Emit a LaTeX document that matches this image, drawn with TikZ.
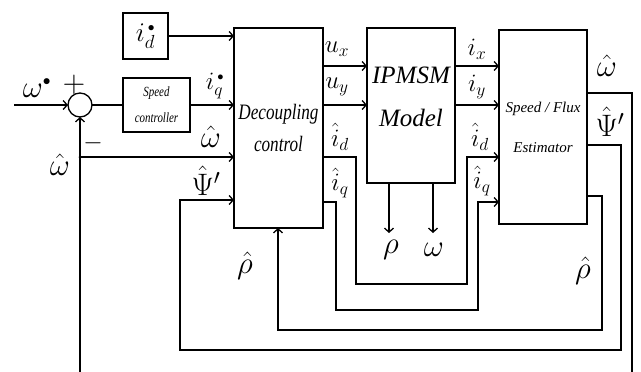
\RequirePackage{fix-cm}
\documentclass[tikz,border=0pt]{standalone}
\usepackage{fontspec}
\setmainfont{Liberation Serif}
\newfontfamily\condfont[FakeStretch=0.78]{Liberation Serif}
\usetikzlibrary{arrows.meta, positioning, calc}

\begin{document}
\begin{tikzpicture}[x=1pt, y=-1pt, line width=1.3pt,
    >={Straight Barb[length=4pt,width=9pt]},
    blk/.style={draw, inner sep=0pt, outer sep=0pt},
    lbl/.style={font=\fontsize{25}{27}\selectfont, inner sep=0pt},
    big/.style={font=\fontsize{31}{33}\selectfont, inner sep=0pt}]
\useasboundingbox (0,0) rectangle (641,372);
% blocks
\node[blk, minimum width=45pt, minimum height=46pt] (idr) at (145.5,36)
    {\fontsize{27}{29}\selectfont$i_d^{\,\scriptscriptstyle\bullet}$};
\node[blk, minimum width=67pt, minimum height=54pt, align=center,
    font=\fontsize{14}{26}\selectfont\itshape\condfont] (sc) at (156.5,105)
    {Speed\\controller};
\node[draw, circle, minimum size=24pt, inner sep=0pt, outer sep=0pt] (sum) at (80,105) {};
\node[blk, minimum width=89pt, minimum height=200pt, align=center,
    font=\fontsize{22}{32}\selectfont\itshape\condfont] (dec) at (278.5,128)
    {Decoupling\\control};
\node[blk, minimum width=88pt, minimum height=155pt] (ipm) at (411,105.5) {};
\node[align=center, inner sep=0pt, font=\fontsize{25}{43}\selectfont\itshape]
    (ipmtxt) at (411,97) {IPMSM\\Model};
\node[blk, minimum width=88pt, minimum height=194pt, align=center,
    font=\fontsize{15}{40}\selectfont\itshape] (est) at (543,127)
    {Speed / Flux\\Estimator};
% bend points
\coordinate (win) at (14,105);
\coordinate (wr) at (632,93);
\coordinate (wb) at (632,372);
\coordinate (lb) at (80,372);
\coordinate (lj) at (80,157);
\coordinate (p1) at (621,145);
\coordinate (p2) at (621,350);
\coordinate (p3) at (180,350);
\coordinate (p4) at (180,200);
\coordinate (r1) at (602,196);
\coordinate (r2) at (602,330);
\coordinate (r3) at (278,330);
\coordinate (ux) at (345,66);
\coordinate (uy) at (345,105);
\coordinate (d1) at (356,157);
\coordinate (d2) at (356,284);
\coordinate (d3) at (467,284);
\coordinate (d4) at (467,157);
\coordinate (q1) at (336,202);
\coordinate (q2) at (336,310);
\coordinate (q3) at (478,310);
\coordinate (q4) at (478,202);
\coordinate (rhoe) at (389,233);
\coordinate (ome) at (433,233);
% connectors
\draw[->] (win) -- (sum.west);
\draw (sum.east) -- (sc.west);
\draw[->] (sc.east) -- (sc.east -| dec.west);
\draw[->] (idr.east) -- (idr.east -| dec.west);
\draw (est.east |- wr) -- (wr) -- (wb);
\draw[->] (lb) -- (sum.south);
\draw[->] (lj) -- (lj -| dec.west);
\fill (lj) circle (1.5pt);
\draw[->] (est.east |- p1) -- (p1) -- (p2) -- (p3) -- (p4) -- (p4 -| dec.west);
\draw[->] (est.east |- r1) -- (r1) -- (r2) -- (r3) -- (r3 |- dec.south);
\draw[->] (ux -| dec.east) -- (ux -| ipm.west);
\draw[->] (uy -| dec.east) -- (uy -| ipm.west);
\draw[->] (ux -| ipm.east) -- (ux -| est.west);
\draw[->] (uy -| ipm.east) -- (uy -| est.west);
\draw[->] (d1 -| dec.east) -- (d1) -- (d2) -- (d3) -- (d4) -- (d4 -| est.west);
\draw[->] (q1 -| dec.east) -- (q1) -- (q2) -- (q3) -- (q4) -- (q4 -| est.west);
\draw[->] (rhoe |- ipm.south) -- (rhoe);
\draw[->] (ome |- ipm.south) -- (ome);
% labels
\node[big] (lwref) at (37,88) {$\omega^{\scriptscriptstyle\bullet}$};
\node[big] (lplus) at (74,85) {$+$};
\node[lbl] (lminus) at (93,143) {$-$};
\node[big] (lwfb) at (60,165) {$\hat{\omega}$};
\node[lbl] (liq) at (215,86) {$i_q^{\,\scriptscriptstyle\bullet}$};
\node[big] (lwdec) at (211,137) {$\hat{\omega}$};
\node[big] (lpsidec) at (206,181) {$\hat{\Psi}'$};
\node[big] (lrhodec) at (245,266) {$\hat{\rho}$};
\node[lbl] (lux) at (337,49) {$u_x$};
\node[lbl] (luy) at (337,87) {$u_y$};
\node[lbl] (lidd) at (340,137) {$\hat{i}_d$};
\node[lbl] (liqd) at (340,183) {$\hat{i}_q$};
\node[big] (lrho) at (391,250) {$\rho$};
\node[big] (lom) at (434,250) {$\omega$};
\node[lbl] (lix) at (477,49) {$i_x$};
\node[lbl] (liy) at (477,87) {$i_y$};
\node[lbl] (lide) at (480,137) {$\hat{i}_d$};
\node[lbl] (liqe) at (482,181) {$\hat{i}_q$};
\node[big] (lwest) at (607,66) {$\hat{\omega}$};
\node[big] (lpsiest) at (610,122) {$\hat{\Psi}'$};
\node[big] (lrhoest) at (583,271) {$\hat{\rho}$};
\end{tikzpicture}
\end{document}
